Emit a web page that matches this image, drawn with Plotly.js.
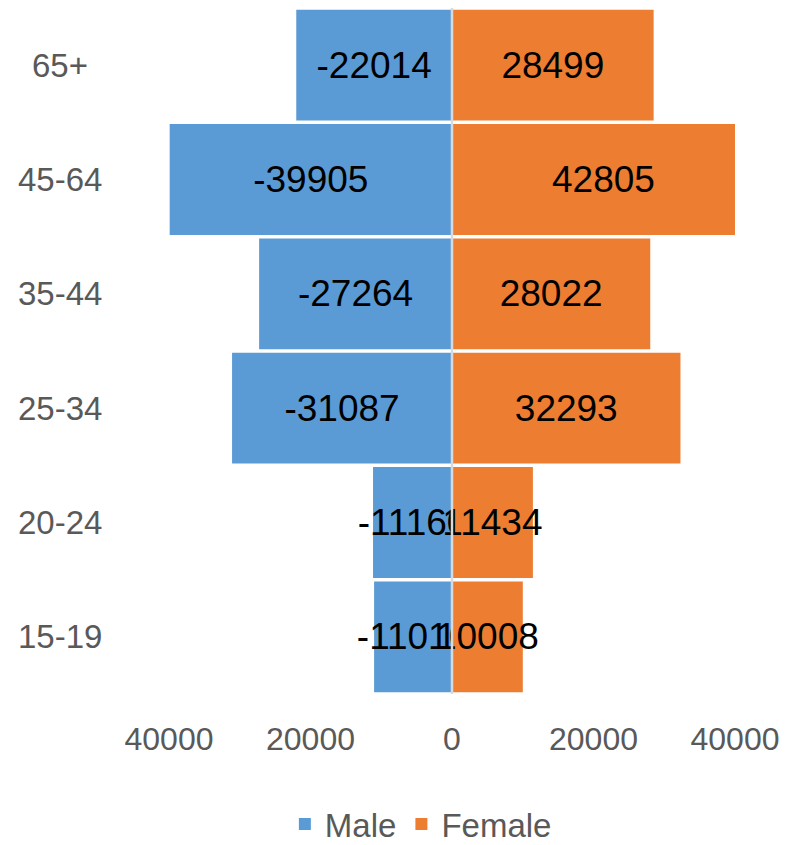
<!DOCTYPE html>
<html>
<head>
<meta charset="utf-8">
<script src="https://cdn.plot.ly/plotly-3.0.1.min.js"></script>
<style>
  html, body { margin: 0; padding: 0; background: #ffffff; overflow: hidden; }
  #chart { width: 785px; height: 852px; }
</style>
</head>
<body>
<div id="chart"></div>
<script>
// Age groups, bottom to top
var categories = ["15-19", "20-24", "25-34", "35-44", "45-64", "65+"];
var maleValues = [-11010, -11160, -31087, -27264, -39905, -22014];
var femaleValues = [10008, 11434, 32293, 28022, 42805, 28499];
var tickValues = [-40000, -20000, 0, 20000, 40000];
var tickLabels = ["40000", "20000", "0", "20000", "40000"];

var FONT = "Liberation Sans, Arial, sans-serif";
var GRAY = "#595959";

var male = {
  type: "bar", orientation: "h", name: "Male",
  y: categories, x: maleValues,
  text: maleValues.map(String),
  textposition: "inside", insidetextanchor: "middle",
  constraintext: "none", textangle: 0,
  textfont: { family: FONT, size: 37, color: "#000000" },
  insidetextfont: { family: FONT, size: 37, color: "#000000" },
  marker: { color: "#5B9BD5" },
  hoverinfo: "skip"
};
var female = {
  type: "bar", orientation: "h", name: "Female",
  y: categories, x: femaleValues,
  text: femaleValues.map(String),
  textposition: "inside", insidetextanchor: "middle",
  constraintext: "none", textangle: 0,
  textfont: { family: FONT, size: 37, color: "#000000" },
  insidetextfont: { family: FONT, size: 37, color: "#000000" },
  marker: { color: "#ED7D31" },
  hoverinfo: "skip"
};

var annotations = categories.map(function (c) {
  return {
    xref: "paper", yref: "y", x: -0.193, y: c,
    text: c, showarrow: false, xanchor: "center", yanchor: "middle",
    font: { family: FONT, size: 33, color: GRAY }
  };
});

var layout = {
  width: 785, height: 852,
  margin: { l: 169, r: 50, t: 8, b: 158 },
  paper_bgcolor: "#ffffff", plot_bgcolor: "#ffffff",
  barmode: "relative", bargap: 0.03,
  font: { family: FONT, color: GRAY },
  showlegend: true,
  legend: {
    orientation: "h", x: 0.445, xanchor: "center",
    yref: "container", y: 0, yanchor: "bottom",
    font: { family: FONT, size: 33, color: GRAY },
    itemclick: false, itemdoubleclick: false
  },
  xaxis: {
    range: [-40000, 40000], fixedrange: true, automargin: false,
    tickvals: tickValues, ticktext: tickLabels,
    tickfont: { family: FONT, size: 32, color: GRAY },
    ticks: "outside", ticklen: 17, tickcolor: "rgba(0,0,0,0)",
    showgrid: false, zeroline: false, showline: false
  },
  yaxis: {
    showticklabels: false, showgrid: false, zeroline: false, showline: false,
    ticks: "", fixedrange: true, automargin: false
  },
  shapes: [{
    type: "line", xref: "x", yref: "paper", x0: 0, x1: 0, y0: 0, y1: 1,
    layer: "above", line: { color: "#D9D9D9", width: 2.5 }
  }],
  annotations: annotations
};

Plotly.newPlot("chart", [male, female], layout, { displayModeBar: false, staticPlot: true });
</script>
</body>
</html>
